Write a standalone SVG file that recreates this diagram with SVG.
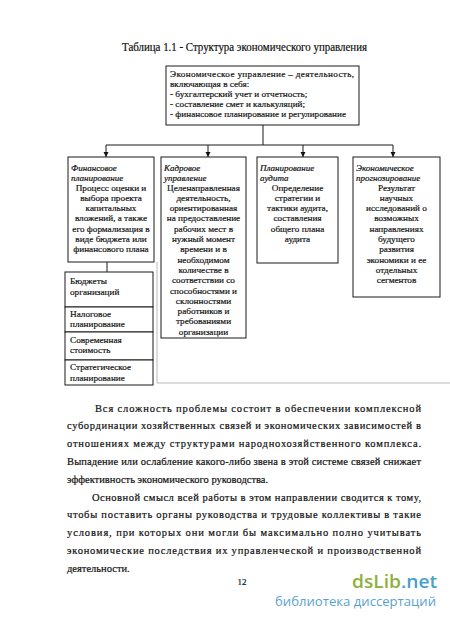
<svg xmlns="http://www.w3.org/2000/svg" width="450" height="620" viewBox="0 0 450 620">
<defs>
<marker id="arr" markerWidth="6" markerHeight="6" refX="5" refY="3" orient="auto" markerUnits="userSpaceOnUse">
<path d="M0,0.5 L5,3 L0,5.5 Z" fill="#111"/>
</marker>
<style>
.box{fill:#fff;stroke:#1a1a1a;stroke-width:1}
.con{fill:none;stroke:#1a1a1a;stroke-width:1}
.t{font-family:"Liberation Serif","Times New Roman",serif;fill:#111;stroke:#111;stroke-width:0.2}
.title{font-size:12px}
.b{font-size:9.2px}
.h{font-size:9px;font-style:italic}
.c{text-anchor:middle}
.p{font-size:10.5px}
.faint{fill:none;stroke:#bbb;stroke-width:1}
</style>
</defs>
<rect width="450" height="620" fill="#fff"/>
<text class="t title" x="122" y="51" textLength="245" lengthAdjust="spacingAndGlyphs">Таблица 1.1 -  Структура экономического управления</text>

<g id="top">
<rect class="box" x="166" y="66" width="193" height="59"/>
<text class="t b" x="170" y="77" textLength="184" lengthAdjust="spacing">Экономическое управление – деятельность,</text>
<text class="t b" x="170" y="87">включающая в себя:</text>
<text class="t b" x="170" y="97">- бухгалтерский учет и отчетность;</text>
<text class="t b" x="170" y="107">- составление смет и калькуляций;</text>
<text class="t b" x="170" y="117">- финансовое планирование и регулирование</text>
</g>

<g id="connectors">
<path class="con" d="M263,125 V145 M106,145 H393"/>
<path class="con" d="M106,145 V157" marker-end="url(#arr)"/>
<path class="con" d="M208,145 V157" marker-end="url(#arr)"/>
<path class="con" d="M303,145 V157" marker-end="url(#arr)"/>
<path class="con" d="M393,145 V157" marker-end="url(#arr)"/>
<path class="con" d="M107,262 V272"/>
</g>

<g id="fin">
<rect class="box" x="68" y="157" width="86" height="105"/>
<text class="t h" x="71" y="170.5">Финансовое</text>
<text class="t h" x="71" y="180.5">планирование</text>
<g class="t b c">
<text x="111" y="190.5">Процесс оценки и</text>
<text x="111" y="200.8">выбора проекта</text>
<text x="111" y="211.1">капитальных</text>
<text x="111" y="221.4">вложений, а также</text>
<text x="111" y="231.7">его формализация в</text>
<text x="111" y="242">виде бюджета или</text>
<text x="111" y="252.3">финансового плана</text>
</g>
</g>

<g id="kadr">
<rect class="box" x="161" y="157" width="85" height="181"/>
<text class="t h" x="164" y="170.5">Кадровое</text>
<text class="t h" x="164" y="180.5">управление</text>
<g class="t b c">
<text x="203.5" y="190.5">Целенаправленная</text>
<text x="203.5" y="200.8">деятельность,</text>
<text x="203.5" y="211.1">ориентированная</text>
<text x="203.5" y="221.4">на предоставление</text>
<text x="203.5" y="231.7">рабочих мест в</text>
<text x="203.5" y="242">нужный момент</text>
<text x="203.5" y="252.3">времени и в</text>
<text x="203.5" y="262.6">необходимом</text>
<text x="203.5" y="272.9">количестве в</text>
<text x="203.5" y="283.2">соответствии со</text>
<text x="203.5" y="293.5">способностями и</text>
<text x="203.5" y="303.8">склонностями</text>
<text x="203.5" y="314.1">работников и</text>
<text x="203.5" y="324.4">требованиями</text>
<text x="203.5" y="334.7">организации</text>
</g>
</g>

<g id="audit">
<rect class="box" x="257" y="157" width="81" height="106"/>
<text class="t h" x="260" y="170.5">Планирование</text>
<text class="t h" x="260" y="180.5">аудита</text>
<g class="t b c">
<text x="297.5" y="190.5">Определение</text>
<text x="297.5" y="200.8">стратегии и</text>
<text x="297.5" y="211.1">тактики аудита,</text>
<text x="297.5" y="221.4">составления</text>
<text x="297.5" y="231.7">общего плана</text>
<text x="297.5" y="242">аудита</text>
</g>
</g>

<g id="prog">
<rect class="box" x="353" y="157" width="87" height="140"/>
<text class="t h" x="356" y="170.5">Экономическое</text>
<text class="t h" x="356" y="180.5">прогнозирование</text>
<g class="t b c">
<text x="396.5" y="190.5">Результат</text>
<text x="396.5" y="200.8">научных</text>
<text x="396.5" y="211.1">исследований о</text>
<text x="396.5" y="221.4">возможных</text>
<text x="396.5" y="231.7">направлениях</text>
<text x="396.5" y="242">будущего</text>
<text x="396.5" y="252.3">развития</text>
<text x="396.5" y="262.6">экономики и ее</text>
<text x="396.5" y="272.9">отдельных</text>
<text x="396.5" y="283.2">сегментов</text>
</g>
</g>

<g id="fin-list">
<g id="budget">
<rect class="box" x="65" y="272" width="88" height="35"/>
<text class="t b" x="70" y="284">Бюджеты</text>
<text class="t b" x="70" y="294.5">организаций</text>
</g>
<g id="tax">
<rect class="box" x="65" y="307" width="88" height="25"/>
<text class="t b" x="70" y="316.5">Налоговое</text>
<text class="t b" x="70" y="326.5">планирование</text>
</g>
<g id="value">
<rect class="box" x="65" y="332" width="88" height="28"/>
<text class="t b" x="70" y="343">Современная</text>
<text class="t b" x="70" y="353">стоимость</text>
</g>
<g id="strat">
<rect class="box" x="65" y="360" width="88" height="25"/>
<text class="t b" x="70" y="370">Стратегическое</text>
<text class="t b" x="70" y="380.5">планирование</text>
</g>
</g>

<path class="faint" d="M157,262 V383 H450"/>

<g class="t p">
<text x="95" y="411.5" textLength="326" lengthAdjust="spacing">Вся сложность проблемы состоит в обеспечении комплексной</text>
<text x="67" y="429.3" textLength="354" lengthAdjust="spacing">субординации хозяйственных связей и экономических зависимостей в</text>
<text x="67" y="447.1" textLength="354" lengthAdjust="spacing">отношениях между структурами народнохозяйственного комплекса.</text>
<text x="67" y="464.9" textLength="354" lengthAdjust="spacing">Выпадение или ослабление какого-либо звена в этой системе связей снижает</text>
<text x="67" y="482.7">эффективность экономического руководства.</text>
<text x="92" y="500.5" textLength="329" lengthAdjust="spacing">Основной смысл всей работы в этом направлении сводится к тому,</text>
<text x="67" y="518.3" textLength="354" lengthAdjust="spacing">чтобы поставить органы руководства и трудовые коллективы в такие</text>
<text x="67" y="536.1" textLength="354" lengthAdjust="spacing">условия, при которых они могли бы максимально полно учитывать</text>
<text x="67" y="553.9" textLength="354" lengthAdjust="spacing">экономические последствия их управленческой и производственной</text>
<text x="67" y="571.7">деятельности.</text>
</g>
<text class="t" x="242" y="585" font-size="9px" text-anchor="middle">12</text>

<g id="watermark" font-family="'Open Sans','DejaVu Sans',sans-serif">
<text x="352" y="588" font-size="18px" font-weight="600" textLength="85" lengthAdjust="spacingAndGlyphs"><tspan fill="#8fb03e">dsLib</tspan><tspan fill="#4a9fcc">.net</tspan></text>
<text x="275" y="606" font-size="12.5px" fill="#5a9fd0" textLength="161" lengthAdjust="spacingAndGlyphs">библиотека диссертаций</text>
</g>
</svg>
